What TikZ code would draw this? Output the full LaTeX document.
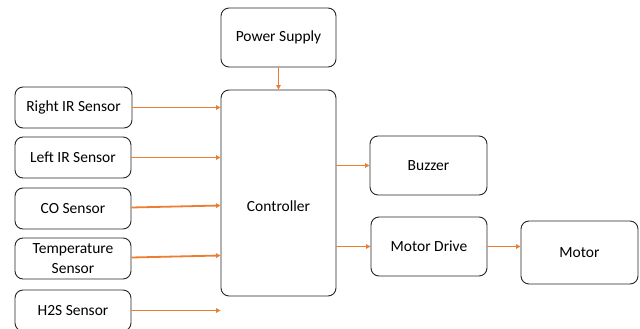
\documentclass[tikz,border=0pt]{standalone}
\usepackage{fontspec}
\setmainfont{Carlito}
\usetikzlibrary{arrows.meta}
\definecolor{arr}{HTML}{ED7D31}
\definecolor{edge}{HTML}{262626}
\tikzset{
  blk/.style={draw=edge, line width=0.9pt, rounded corners=8pt, align=center, inner sep=0pt, font=\fontsize{15.5}{19.5}\selectfont},
  conn/.style={draw=arr, line width=1.8pt, -{Triangle[length=4.5pt,width=4.5pt]}},
}
\begin{document}
\begin{tikzpicture}[x=1pt,y=-1pt]
\useasboundingbox (0,0) rectangle (640,329);
\node[blk, minimum width=115pt, minimum height=59pt] (ps) at (278.5,37.5) {Power Supply};
\node[blk, minimum width=115pt, minimum height=206pt] (ctrl) at (278.5,193) {\smash{\raisebox{-18pt}{Controller}}};
\node[blk, minimum width=117pt, minimum height=41pt] (rir) at (73.5,107.5) {Right IR Sensor};
\node[blk, minimum width=116pt, minimum height=41pt] (lir) at (73,157.5) {Left IR Sensor};
\node[blk, minimum width=116pt, minimum height=41pt] (co) at (73,208.5) {CO Sensor};
\node[blk, minimum width=116pt, minimum height=41pt] (tmp) at (73,258.5) {Temperature\\Sensor};
\node[blk, minimum width=116pt, minimum height=41pt] (h2s) at (73,310.5) {H2S Sensor};
\node[blk, minimum width=117pt, minimum height=59pt] (buz) at (428.5,165.5) {Buzzer};
\node[blk, minimum width=116pt, minimum height=59pt] (md) at (429,246.5) {Motor Drive};
\node[blk, minimum width=117pt, minimum height=63pt] (mot) at (579.5,252.5) {Motor};
\draw[conn] (ps.south) -- (ctrl.north);
\draw[conn] (rir.east) -- (rir.east -| ctrl.west);
\draw[conn] (lir.east) -- (lir.east -| ctrl.west);
\draw[conn] ([yshift=1pt]co.east) -- ([yshift=3pt]co.east -| ctrl.west);
\draw[conn] ([yshift=1pt]tmp.east) -- ([yshift=3pt]tmp.east -| ctrl.west);
\draw[conn] (h2s.east) -- (h2s.east -| ctrl.west);
\draw[conn] (buz.west -| ctrl.east) -- (buz.west);
\draw[conn] (md.west -| ctrl.east) -- (md.west);
\draw[conn] (md.east) -- (md.east -| mot.west);
\end{tikzpicture}
\end{document}
